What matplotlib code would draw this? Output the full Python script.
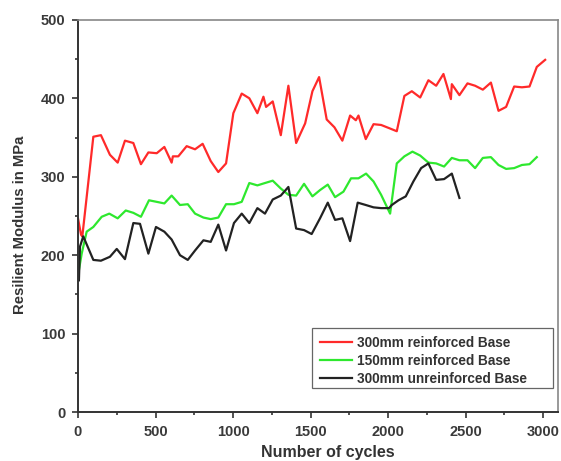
import matplotlib
matplotlib.use("Agg")
import matplotlib.pyplot as plt
from matplotlib.ticker import MultipleLocator
from matplotlib.patches import Rectangle

plt.rcParams['font.family'] = ['Liberation Sans', 'DejaVu Sans']

# 300mm reinforced base
red_x = [0, 20, 28, 99, 148, 206, 256, 303, 357, 406, 454, 508, 557, 604, 612, 647, 701,
         755, 804, 856, 905, 955, 1002, 1056, 1105, 1157, 1196, 1213, 1256, 1308, 1357,
         1407, 1465, 1512, 1555, 1604, 1654, 1705, 1755, 1792, 1809, 1856, 1906, 1955,
         2006, 2056, 2105, 2153, 2207, 2260, 2310, 2357, 2405, 2411, 2460, 2512, 2561,
         2611, 2663, 2712, 2761, 2813, 2863, 2912, 2959, 3013]
red_y = [247, 226, 224, 351, 353, 328, 318, 346, 343, 316, 331, 330, 338, 318, 326, 326, 339,
         335, 342, 320, 306, 317, 381, 406, 400, 381, 402, 389, 396, 353, 416,
         343, 368, 409, 427, 373, 363, 346, 378, 372, 378, 348, 367, 366,
         362, 358, 403, 409, 401, 423, 416, 431, 399, 418, 404, 419, 416,
         411, 420, 384, 389, 415, 414, 415, 440, 449]

# 150mm reinforced base
green_x = [6, 24, 56, 99, 153, 202, 256, 308, 357, 406, 458, 508, 557, 604, 658, 708, 755,
           809, 856, 905, 955, 1006, 1056, 1105, 1157, 1206, 1256, 1308, 1357, 1407, 1458,
           1512, 1561, 1611, 1658, 1712, 1761, 1809, 1858, 1906, 1955, 2013, 2056, 2105,
           2157, 2207, 2260, 2310, 2361, 2411, 2460, 2512, 2561, 2611, 2663, 2712, 2761,
           2813, 2863, 2912, 2959]
green_y = [181, 202, 230, 236, 249, 253, 247, 257, 254, 249, 270, 268, 266, 276, 264, 265, 253,
           248, 246, 248, 265, 265, 268, 292, 289, 292, 295, 285, 277, 276, 291,
           275, 283, 290, 274, 281, 298, 298, 304, 294, 277, 253, 317, 326,
           332, 327, 318, 317, 313, 324, 321, 321, 311, 324, 325, 315, 310,
           311, 315, 316, 325]

# 300mm unreinforced base
black_x = [6, 13, 34, 99, 148, 206, 250, 303, 357, 400, 454, 503, 557, 604, 658, 708, 755,
           809, 856, 905, 955, 1006, 1056, 1105, 1157, 1206, 1256, 1308, 1357, 1407, 1458,
           1507, 1561, 1611, 1658, 1705, 1755, 1804, 1856, 1906, 1955, 2006, 2024, 2067,
           2114, 2163, 2213, 2260, 2310, 2361, 2411, 2460]
black_y = [168, 211, 224, 194, 193, 198, 208, 195, 241, 240, 202, 236, 230, 220, 200, 194, 206,
           219, 217, 239, 206, 241, 253, 241, 260, 253, 271, 276, 287, 234, 232,
           227, 247, 267, 245, 247, 218, 267, 264, 261, 260, 260, 264, 270,
           275, 294, 311, 317, 296, 297, 304, 273]

labels = ["300mm reinforced Base", "150mm reinforced Base", "300mm unreinforced Base"]

fig = plt.figure(figsize=(5.61, 4.61), dpi=100)
ax = fig.add_axes([0.139, 0.106, 0.856, 0.851])

ax.plot(red_x, red_y, color='#ff2a2a', lw=1.6, label=labels[0])
ax.plot(green_x, green_y, color='#2ee82e', lw=1.6, label=labels[1])
ax.plot(black_x, black_y, color='#222222', lw=1.6, label=labels[2])

ax.set_xlim(0, 3097)
ax.set_ylim(0, 500)
ax.xaxis.set_major_locator(MultipleLocator(500))
ax.xaxis.set_minor_locator(MultipleLocator(250))
ax.yaxis.set_major_locator(MultipleLocator(100))
ax.yaxis.set_minor_locator(MultipleLocator(50))
ax.tick_params(which='both', direction='out', top=False, right=False, width=1.2,
               colors='#333333')
ax.tick_params(which='major', length=4, labelsize=10.5, pad=5)
ax.tick_params(which='minor', length=2.5)
for lab in ax.get_xticklabels() + ax.get_yticklabels():
    lab.set_fontweight('bold')
    lab.set_color('#3a3a3a')

for s in ['left', 'bottom']:
    ax.spines[s].set_linewidth(1.4)
    ax.spines[s].set_color('#333333')
for s in ['top', 'right']:
    ax.spines[s].set_linewidth(1.2)
    ax.spines[s].set_color('#888888')

ax.set_xlabel("Number of cycles", fontsize=11.5, fontweight='bold', color='#333333')
ax.xaxis.set_label_coords(0.52, -0.084)
ax.set_ylabel("Resilient Modulus in MPa", fontsize=10.7, fontweight='bold', color='#333333')
ax.yaxis.set_label_coords(-0.106, 0.477)

# legend box (frame drawn separately to match the reference's wider box)
box_x0, box_y0, box_x1, box_y1 = 0.4875, 0.061, 0.99, 0.214
ax.add_patch(Rectangle((box_x0, box_y0), box_x1 - box_x0, box_y1 - box_y0,
                       transform=ax.transAxes, facecolor='white', edgecolor='#666666',
                       lw=0.9, zorder=4))
leg = ax.legend(loc='upper left', bbox_to_anchor=(box_x0, box_y1), borderaxespad=0,
                prop={'weight': 'bold', 'size': 9.8}, frameon=False,
                handlelength=2.4, handletextpad=0.35,
                borderpad=0.55, labelspacing=0.3)
leg.set_zorder(5)
for t in leg.get_texts():
    t.set_color('#333333')

fig.savefig("out.png", dpi=100)
